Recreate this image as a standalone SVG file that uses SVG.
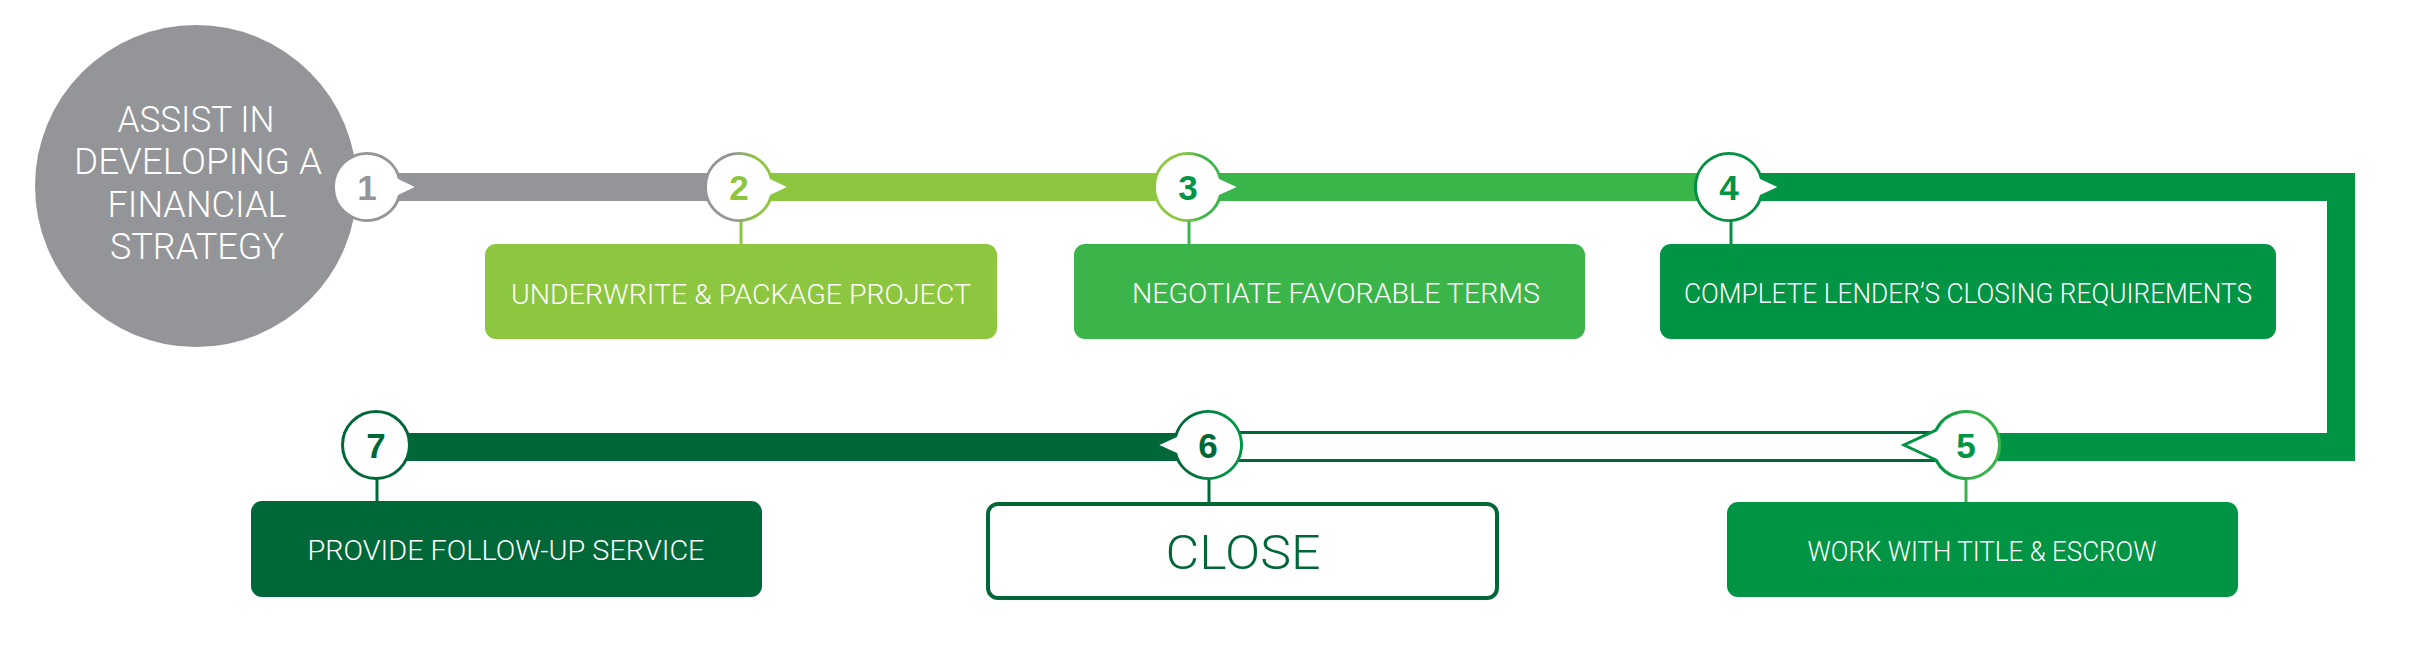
<svg xmlns="http://www.w3.org/2000/svg" width="2424" height="646" viewBox="0 0 2424 646">
<defs>
<linearGradient id="g2" x1="0" y1="0" x2="1" y2="0"><stop offset="0.3" stop-color="#939598"/><stop offset="0.6" stop-color="#8DC63F"/></linearGradient>
<linearGradient id="g3" x1="0" y1="0" x2="1" y2="0"><stop offset="0.3" stop-color="#8DC63F"/><stop offset="0.6" stop-color="#39B54A"/></linearGradient>
<linearGradient id="g4" x1="0" y1="0" x2="1" y2="0"><stop offset="0.3" stop-color="#00903F"/><stop offset="0.7" stop-color="#009444"/></linearGradient>
<linearGradient id="g5" x1="0" y1="0" x2="1" y2="0"><stop offset="0.35" stop-color="#009444"/><stop offset="0.75" stop-color="#39B54A"/></linearGradient>
<linearGradient id="g6" x1="0" y1="0" x2="1" y2="0"><stop offset="0.3" stop-color="#006838"/><stop offset="0.8" stop-color="#009444"/></linearGradient>
</defs>
<style>
.bub{fill:#fff;stroke-width:3}
.num{font-family:"Liberation Sans",Arial,sans-serif;font-weight:bold;font-size:35px;text-anchor:middle}
.lbl{font-family:Roboto,"Liberation Sans",sans-serif;font-weight:300;fill:#fff;text-anchor:middle}
.stem{stroke-width:3;fill:none}
.bar{fill:none;stroke-width:28}
</style>
<g id="connectors">
<line class="bar" x1="367" y1="187" x2="739" y2="187" stroke="#939598"/>
<line class="bar" x1="739" y1="187" x2="1188" y2="187" stroke="#8DC63F"/>
<line class="bar" x1="1188" y1="187" x2="1729" y2="187" stroke="#39B54A"/>
<path class="bar" d="M1729 187 H2341 V447 H1966" stroke="#009444" stroke-linejoin="miter"/>
<rect x="1208" y="432.5" width="758" height="28" fill="#fff" stroke="#006838" stroke-width="3"/>
<line class="bar" x1="376" y1="447" x2="1208" y2="447" stroke="#006838"/>
<line class="stem" x1="741" y1="220" x2="741" y2="246" stroke="#8DC63F"/>
<line class="stem" x1="1189" y1="220" x2="1189" y2="246" stroke="#39B54A"/>
<line class="stem" x1="1731" y1="220" x2="1731" y2="246" stroke="#009444"/>
<line class="stem" x1="1966" y1="478" x2="1966" y2="504" stroke="#39B54A"/>
<line class="stem" x1="1209" y1="478" x2="1209" y2="504" stroke="#006838"/>
<line class="stem" x1="377" y1="478" x2="377" y2="503" stroke="#006838"/>
</g>
<g id="start">
<circle cx="196" cy="186" r="161" fill="#939598"/>
<g class="lbl" font-size="36">
<text x="196" y="132" textLength="157" lengthAdjust="spacingAndGlyphs">ASSIST IN</text>
<text x="198" y="174" textLength="248" lengthAdjust="spacingAndGlyphs">DEVELOPING A</text>
<text x="197" y="217" textLength="179" lengthAdjust="spacingAndGlyphs">FINANCIAL</text>
<text x="197" y="259" textLength="174" lengthAdjust="spacingAndGlyphs">STRATEGY</text>
</g>
</g>
<g id="step1">
<path class="bub" stroke="#939598" d="M399.27 178 L418 187 L399.27 196 A33.5 33.5 0 1 1 399.27 178 Z"/>
<text class="num" x="367" y="200" fill="#939598">1</text>
</g>
<g id="step2">
<path class="bub" stroke="url(#g2)" d="M771.27 178 L790 187 L771.27 196 A33.5 33.5 0 1 1 771.27 178 Z"/>
<text class="num" x="739" y="200" fill="#8DC63F">2</text>
<rect x="485" y="244" width="512" height="95" rx="11" fill="#8DC63F"/>
<text class="lbl" x="741" y="304" font-size="28" textLength="460" lengthAdjust="spacingAndGlyphs">UNDERWRITE &amp; PACKAGE PROJECT</text>
</g>
<g id="step3">
<path class="bub" stroke="url(#g3)" d="M1220.27 178 L1240 187 L1220.27 196 A33.5 33.5 0 1 1 1220.27 178 Z"/>
<text class="num" x="1188" y="200" fill="#009444">3</text>
<rect x="1074" y="244" width="511" height="95" rx="11" fill="#3BB54A"/>
<text class="lbl" x="1336" y="303" font-size="28" textLength="408" lengthAdjust="spacingAndGlyphs">NEGOTIATE FAVORABLE TERMS</text>
</g>
<g id="step4">
<path class="bub" stroke="url(#g4)" d="M1761.27 178 L1781 187 L1761.27 196 A33.5 33.5 0 1 1 1761.27 178 Z"/>
<text class="num" x="1729" y="200" fill="#009444">4</text>
<rect x="1660" y="244" width="616" height="95" rx="11" fill="#009444"/>
<text class="lbl" x="1968" y="303" font-size="28" textLength="568" lengthAdjust="spacingAndGlyphs">COMPLETE LENDER’S CLOSING REQUIREMENTS</text>
</g>
<g id="step5">
<path class="bub" stroke="url(#g5)" d="M1936.05 460 L1904 445 L1936.05 430 A33.5 33.5 0 1 1 1936.05 460 Z"/>
<text class="num" x="1966" y="458" fill="#009444">5</text>
<rect x="1727" y="502" width="511" height="95" rx="11" fill="#009444"/>
<text class="lbl" x="1982" y="561" font-size="27" textLength="349" lengthAdjust="spacingAndGlyphs">WORK WITH TITLE &amp; ESCROW</text>
</g>
<g id="step6">
<path class="bub" stroke="url(#g6)" d="M1175.73 436 L1156 445 L1175.73 454 A33.5 33.5 0 1 0 1175.73 436 Z"/>
<text class="num" x="1208" y="458" fill="#006838">6</text>
<rect x="988" y="504" width="509" height="94" rx="10" fill="#fff" stroke="#006838" stroke-width="4"/>
<text class="lbl" x="1243" y="569" font-size="49" fill="#006838" style="fill:#006838" textLength="155" lengthAdjust="spacingAndGlyphs">CLOSE</text>
</g>
<g id="step7">
<circle class="bub" cx="376" cy="445" r="33.5" stroke="#006838"/>
<text class="num" x="376" y="458" fill="#006838">7</text>
<rect x="251" y="501" width="511" height="96" rx="11" fill="#006838"/>
<text class="lbl" x="506" y="560" font-size="28" textLength="397" lengthAdjust="spacingAndGlyphs">PROVIDE FOLLOW-UP SERVICE</text>
</g>
</svg>
